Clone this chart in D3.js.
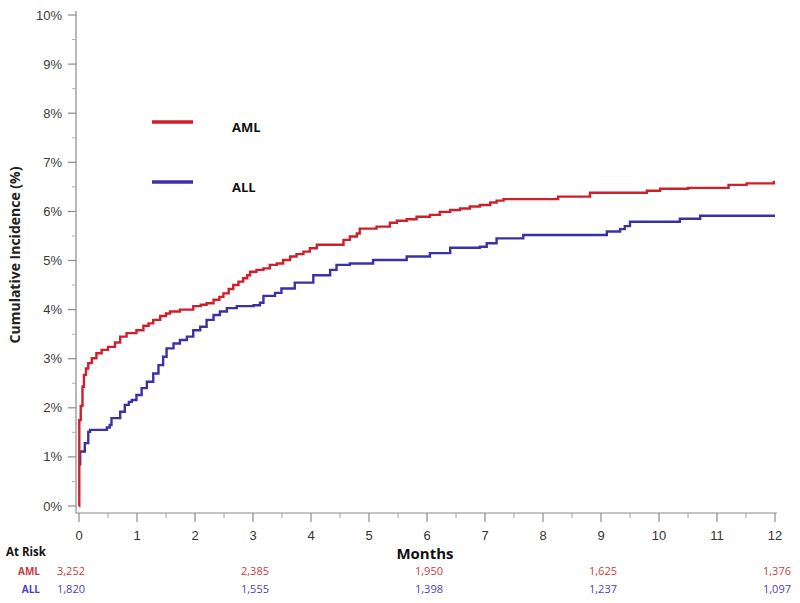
<!DOCTYPE html>
<html>
<head>
<meta charset="utf-8">
<script src="https://cdn.jsdelivr.net/npm/d3@7"></script>
<style>
  html, body { margin: 0; padding: 0; background: #fff; }
  svg { display: block; }
</style>
</head>
<body>
<svg id="chart" width="800" height="603"></svg>
<script>
// ---- Data ----
const seriesNames = ["AML", "ALL"];
const amlTime = [0, 0.005, 0.03, 0.06, 0.085, 0.12, 0.16, 0.22, 0.30, 0.39, 0.50, 0.62, 0.71, 0.82, 0.99, 1.11, 1.20, 1.28, 1.40, 1.50, 1.57, 1.74, 1.97, 2.10, 2.20, 2.32, 2.42, 2.49, 2.58, 2.66, 2.75, 2.83, 2.90, 2.95, 3.06, 3.18, 3.29, 3.41, 3.52, 3.64, 3.75, 3.87, 3.98, 4.10, 4.56, 4.67, 4.79, 4.84, 5.13, 5.36, 5.48, 5.65, 5.82, 6.05, 6.22, 6.40, 6.57, 6.74, 6.91, 7.09, 7.20, 7.32, 8.26, 8.81, 9.79, 10.02, 10.50, 11.20, 11.51, 11.98, 12.0];
const amlPct  = [0, 1.75, 2.04, 2.43, 2.67, 2.80, 2.91, 3.01, 3.11, 3.18, 3.24, 3.33, 3.45, 3.52, 3.58, 3.67, 3.72, 3.79, 3.87, 3.92, 3.96, 4.00, 4.07, 4.10, 4.13, 4.20, 4.26, 4.33, 4.42, 4.50, 4.57, 4.64, 4.70, 4.77, 4.81, 4.84, 4.91, 4.94, 5.01, 5.08, 5.13, 5.18, 5.25, 5.32, 5.42, 5.49, 5.55, 5.65, 5.69, 5.77, 5.81, 5.84, 5.89, 5.93, 5.99, 6.03, 6.06, 6.10, 6.13, 6.18, 6.22, 6.25, 6.30, 6.38, 6.42, 6.46, 6.48, 6.54, 6.57, 6.60, 6.60];
const allTime = [0, 0.02, 0.10, 0.16, 0.19, 0.48, 0.53, 0.56, 0.71, 0.79, 0.86, 0.91, 0.99, 1.08, 1.17, 1.28, 1.37, 1.45, 1.51, 1.63, 1.74, 1.86, 1.97, 2.09, 2.20, 2.32, 2.43, 2.55, 2.72, 3.01, 3.12, 3.18, 3.38, 3.49, 3.72, 4.04, 4.33, 4.44, 4.67, 5.07, 5.65, 6.05, 6.40, 6.91, 7.03, 7.20, 7.66, 9.10, 9.33, 9.41, 9.50, 10.36, 10.71, 12.0];
const allPct  = [0.85, 1.11, 1.28, 1.51, 1.55, 1.60, 1.65, 1.79, 1.92, 2.06, 2.12, 2.16, 2.26, 2.40, 2.53, 2.70, 2.87, 3.04, 3.21, 3.31, 3.38, 3.45, 3.58, 3.65, 3.79, 3.89, 3.96, 4.03, 4.07, 4.09, 4.14, 4.28, 4.34, 4.43, 4.55, 4.70, 4.81, 4.91, 4.94, 5.01, 5.08, 5.15, 5.26, 5.28, 5.35, 5.45, 5.52, 5.59, 5.64, 5.70, 5.79, 5.85, 5.91, 5.91];

const yTicks = [0,1,2,3,4,5,6,7,8,9,10];
const yTickLabels = ["0%","1%","2%","3%","4%","5%","6%","7%","8%","9%","10%"];
const xTicks = [0,1,2,3,4,5,6,7,8,9,10,11,12];
const riskTimes = [0, 3, 6, 9, 12];
const riskAML = ["3,252", "2,385", "1,950", "1,625", "1,376"];
const riskALL = ["1,820", "1,555", "1,398", "1,237", "1,097"];

// ---- Styles ----
const colors = { AML: "#cf1f2b", ALL: "#3b31a7" };
const riskColors = { AML: "#cc3a3f", ALL: "#4b3fbb" };
const axisColor = "#8a8a8a";
const labelColor = "#3a3a3a";

const svg = d3.select("#chart");
const x = d3.scaleLinear().domain([0, 12]).range([79, 775]);
const y = d3.scaleLinear().domain([0, 10]).range([506, 15]);

const axisX0 = 76, axisY0 = 513;

// Y axis
const gy = svg.append("g");
gy.append("line").attr("x1", axisX0).attr("x2", axisX0).attr("y1", y(10) - 4).attr("y2", axisY0)
  .attr("stroke", axisColor).attr("stroke-width", 1.2);
gy.selectAll("line.maj").data(yTicks).join("line").attr("class","maj")
  .attr("x1", axisX0 - 8).attr("x2", axisX0).attr("y1", d => y(d)).attr("y2", d => y(d))
  .attr("stroke", axisColor).attr("stroke-width", 1.2);
gy.selectAll("line.min").data(d3.range(0.5, 10, 1)).join("line").attr("class","min")
  .attr("x1", axisX0 - 4).attr("x2", axisX0).attr("y1", d => y(d)).attr("y2", d => y(d))
  .attr("stroke", "#b0b0b0").attr("stroke-width", 1);
gy.selectAll("text").data(yTicks).join("text")
  .attr("x", axisX0 - 14).attr("y", d => y(d)).attr("dy", "0.35em")
  .attr("text-anchor", "end").attr("font-family", "Liberation Sans, Arial, sans-serif")
  .attr("font-size", 13).attr("fill", labelColor)
  .text((d, i) => yTickLabels[i]);

// X axis
const gx = svg.append("g");
gx.append("line").attr("x1", axisX0).attr("x2", x(12) + 2).attr("y1", axisY0).attr("y2", axisY0)
  .attr("stroke", axisColor).attr("stroke-width", 1.2);
gx.selectAll("line.maj").data(xTicks).join("line").attr("class","maj")
  .attr("x1", d => x(d)).attr("x2", d => x(d)).attr("y1", axisY0).attr("y2", axisY0 + 9)
  .attr("stroke", axisColor).attr("stroke-width", 1.2);
gx.selectAll("line.min").data(d3.range(0.5, 12, 1)).join("line").attr("class","min")
  .attr("x1", d => x(d)).attr("x2", d => x(d)).attr("y1", axisY0).attr("y2", axisY0 + 5)
  .attr("stroke", "#a0a0a0").attr("stroke-width", 1);
gx.selectAll("text").data(xTicks).join("text")
  .attr("x", d => x(d)).attr("y", 540)
  .attr("text-anchor", "middle").attr("font-family", "Liberation Sans, Arial, sans-serif")
  .attr("font-size", 13).attr("fill", "#333")
  .text(d => d);

// Axis titles
svg.append("text").attr("transform", "translate(20,255) rotate(-90)")
  .attr("text-anchor", "middle").attr("font-family", "Open Sans, sans-serif")
  .attr("font-weight", "bold").attr("font-size", 14).attr("fill", "#222")
  .text("Cumulative Incidence (%)");
svg.append("text").attr("x", 425).attr("y", 559)
  .attr("text-anchor", "middle").attr("font-family", "Open Sans, sans-serif")
  .attr("font-weight", "bold").attr("font-size", 15).attr("fill", "#111")
  .text("Months");

// Curves
const line = d3.line().curve(d3.curveStepAfter).x(d => x(d[0])).y(d => y(d[1]));
const amlData = amlTime.map((t, i) => [t, amlPct[i]]);
const allData = allTime.map((t, i) => [t, allPct[i]]);
svg.append("path").datum(allData).attr("d", line).attr("fill", "none")
  .attr("stroke", colors.ALL).attr("stroke-width", 2.4);
svg.append("path").datum(amlData).attr("d", line).attr("fill", "none")
  .attr("stroke", colors.AML).attr("stroke-width", 2.4);

// Legend
const legY = [122, 182];
seriesNames.forEach((name, i) => {
  svg.append("line").attr("x1", 152).attr("x2", 193).attr("y1", legY[i]).attr("y2", legY[i])
    .attr("stroke", colors[name]).attr("stroke-width", 3.5);
  svg.append("text").attr("x", 232).attr("y", legY[i] + 5).attr("dy", "0.35em")
    .attr("font-family", "Open Sans, sans-serif").attr("font-weight", "bold")
    .attr("font-size", 13).attr("fill", "#111").text(name);
});

// At-risk table
svg.append("text").attr("x", 6).attr("y", 552).attr("dy", "0.35em")
  .attr("font-family", "Open Sans, sans-serif").attr("font-weight", "bold")
  .attr("font-size", 11.5).attr("fill", "#111").text("At Risk");
const riskRows = [{ name: "AML", vals: riskAML, yy: 571 }, { name: "ALL", vals: riskALL, yy: 589 }];
riskRows.forEach(r => {
  svg.append("text").attr("x", 40).attr("y", r.yy).attr("dy", "0.35em").attr("text-anchor", "end")
    .attr("font-family", "Open Sans, sans-serif").attr("font-weight", "bold")
    .attr("font-size", 10).attr("fill", riskColors[r.name]).text(r.name);
  svg.selectAll(null).data(riskTimes).join("text")
    .attr("x", d => x(d) + (d === 0 ? -8 : 2)).attr("y", r.yy).attr("dy", "0.35em")
    .attr("text-anchor", "middle").attr("font-family", "Open Sans, sans-serif")
    .attr("font-size", 11).attr("fill", riskColors[r.name])
    .text((d, i) => r.vals[i]);
});
</script>
</body>
</html>
